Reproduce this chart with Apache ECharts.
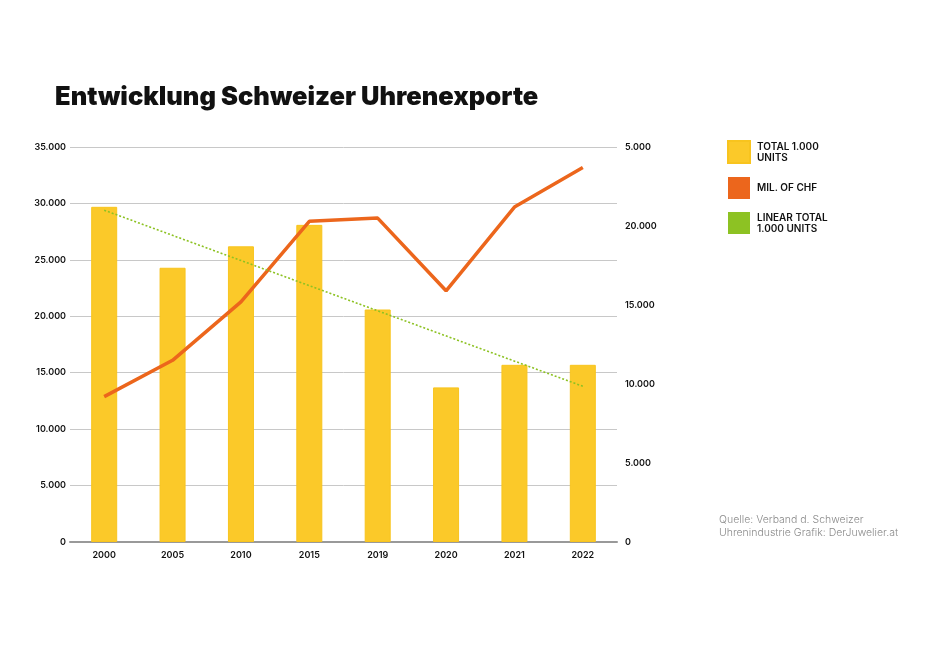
<!DOCTYPE html>
<html>
<head>
<meta charset="utf-8">
<script src="https://cdn.jsdelivr.net/npm/echarts@6/dist/echarts.min.js"></script>
<style>
html,body{margin:0;padding:0;background:#fff;}
#c{width:932px;height:661px;}
</style>
</head>
<body>
<div id="c"></div>
<script>
const categories = ['2000','2005','2010','2015','2019','2020','2021','2022'];
const unitsTotal = [29700, 24300, 26200, 28100, 20600, 13700, 15700, 15700];
const chfMillions = [9200, 11500, 15200, 20300, 20500, 15900, 21200, 23700];
const linearTotal = [29400, null, null, null, null, null, null, 13800];
const leftTicks = ['0','5.000','10.000','15.000','20.000','25.000','30.000','35.000'];
const rightTicks = ['0','5.000','10.000','15.000','20.000','5.000'];
const seriesNames = ['TOTAL 1.000\nUNITS', 'MIL. OF CHF', 'LINEAR TOTAL\n1.000 UNITS'];

const FONT = 'Inter, Lato, sans-serif';
const chart = echarts.init(document.getElementById('c'), null, {renderer:'canvas'});
chart.setOption({
  backgroundColor: '#ffffff',
  animation: false,
  title: {
    text: 'Entwicklung Schweizer Uhrenexporte',
    left: 50, top: 79,
    textStyle: {fontFamily: FONT, fontWeight: 900, fontSize: 25.5, color: '#111'}
  },
  legend: {
    orient: 'vertical',
    left: 722, top: 135,
    itemWidth: 22, itemHeight: 22, itemGap: 13,
    icon: 'rect',
    textStyle: {fontFamily: FONT, fontWeight: 600, fontSize: 10, color: '#111', lineHeight: 11, padding: [0,0,0,2]},
    data: [
      {name: seriesNames[0], itemStyle: {color: '#FBC929'}},
      {name: seriesNames[1], itemStyle: {color: '#EC661C'}},
      {name: seriesNames[2], itemStyle: {color: '#8DC223'}}
    ]
  },
  graphic: [{
    type: 'text', left: 719, top: 513,
    style: {text: 'Quelle: Verband d. Schweizer\nUhrenindustrie Grafik: DerJuwelier.at',
      fontFamily: FONT, fontSize: 10.5, lineHeight: 13, fill: '#8a8a8a', fontWeight: 300}
  }],
  grid: {left: 70, right: 315, top: 147, bottom: 119},
  xAxis: {
    type: 'category', data: categories,
    axisLine: {show: true, lineStyle: {color: '#999', width: 2}},
    axisTick: {show: false},
    axisLabel: {fontFamily: FONT, fontWeight: 600, fontSize: 9, color: '#111', margin: 9}
  },
  yAxis: [{
    type: 'value', min: 0, max: 35000, interval: 5000, position: 'left',
    axisLine: {show: false}, axisTick: {show: false},
    splitLine: {lineStyle: {color: '#c8c8c8', width: 1}},
    axisLabel: {fontFamily: FONT, fontWeight: 600, fontSize: 9, color: '#111', margin: 4,
      formatter: (v) => leftTicks[Math.round(v/5000)]}
  }, {
    type: 'value', min: 0, max: 25000, interval: 5000, position: 'right',
    axisLine: {show: false}, axisTick: {show: false},
    splitLine: {show: false},
    axisLabel: {fontFamily: FONT, fontWeight: 600, fontSize: 9, color: '#111', margin: 8,
      formatter: (v) => rightTicks[Math.round(v/5000)]}
  }],
  series: [{
    name: seriesNames[0], type: 'bar', data: unitsTotal, yAxisIndex: 0,
    barWidth: 26,
    itemStyle: {color: '#FBC929', borderColor: '#F8C41E', borderWidth: 1}
  }, {
    name: seriesNames[1], type: 'line', data: chfMillions, yAxisIndex: 1,
    symbol: 'none', lineStyle: {color: '#EC661C', width: 3.5}, itemStyle: {color: '#EC661C'}
  }, {
    name: seriesNames[2], type: 'line', data: linearTotal, yAxisIndex: 0, connectNulls: true,
    symbol: 'none', lineStyle: {color: '#8DC223', width: 1.6, type: [2, 2]}, itemStyle: {color: '#8DC223'}
  }]
});
</script>
</body>
</html>
